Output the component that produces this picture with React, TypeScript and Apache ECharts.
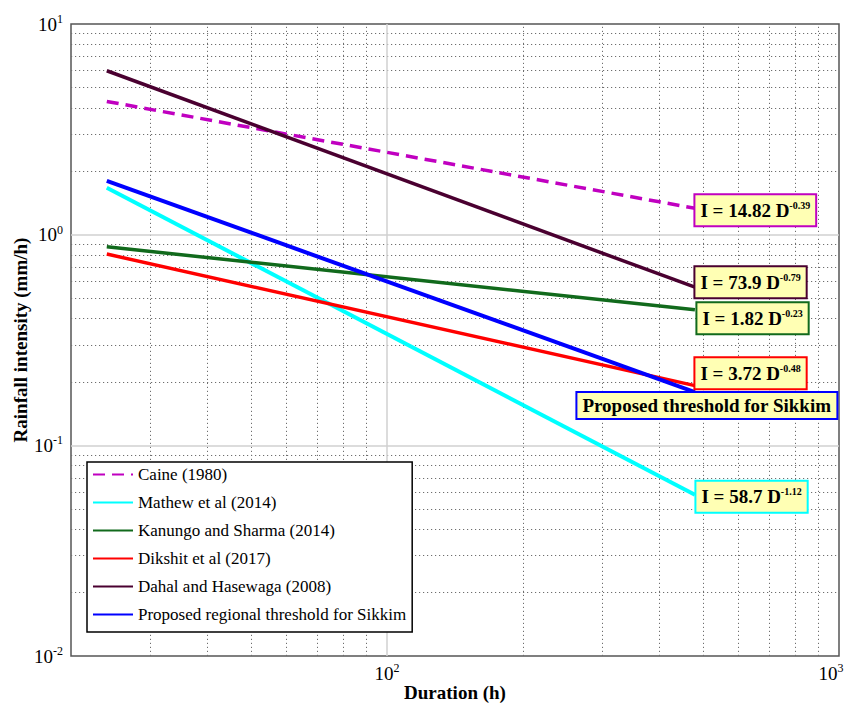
import React, { useEffect, useRef } from 'react';
import * as echarts from 'echarts';

// Duration span (h) covered by every threshold curve
const durations = [24, 480];

const seriesNames = [
  'Caine (1980)',
  'Mathew et al (2014)',
  'Kanungo and Sharma (2014)',
  'Dikshit et al (2017)',
  'Dahal and Hasewaga (2008)',
  'Proposed regional threshold for Sikkim',
];

// Rainfall intensity (mm/h) at the two ends of each power-law threshold
const caineValues = [4.291, 1.334];
const mathewValues = [1.67, 0.0583];
const kanungoValues = [0.876, 0.44];
const dikshitValues = [0.809, 0.192];
const dahalValues = [6.0, 0.563];
const sikkimValues = [1.8, 0.179];

// Equation annotations  I = a D^b
const eqCoefficients = ['14.82', '58.7', '1.82', '3.72', '73.9', ''];
const eqExponents = ['-0.39', '-1.12', '-0.23', '-0.48', '-0.79', ''];
const sikkimBoxText = 'Proposed threshold for Sikkim';

// Minor / major grid positions
const minorX = [30, 40, 50, 60, 70, 80, 90, 200, 300, 400, 500, 600, 700, 800, 900];
const majorX = [100];
const minorY = [
  0.02, 0.03, 0.04, 0.05, 0.06, 0.07, 0.08, 0.09,
  0.2, 0.3, 0.4, 0.5, 0.6, 0.7, 0.8, 0.9,
  2, 3, 4, 5, 6, 7, 8, 9,
];
const majorY = [0.1, 1];

const colors = ['#c000c0', '#00ffff', '#116a1c', '#ff0000', '#4a0030', '#0000ff'];
const labelOffsets: [number, number][] = [
  [0, 2],
  [1, 2],
  [2, 8.5],
  [0, -12.5],
  [0, -5],
  [-118, 13.5],
];

const SERIF = 'Liberation Serif';

// "10" with the decade exponent as a superscript; empty for non-decade ticks
function powerLabel(v: number, padRight = false): string {
  const e = Math.log10(v);
  const r = Math.round(e);
  if (Math.abs(e - r) > 1e-6) return '';
  return `{b|10}{s|${r}}` + (padRight && r === 3 ? '{g|}' : '');
}

export default function App() {
  const ref = useRef<HTMLDivElement>(null);

  useEffect(() => {
    if (!ref.current) return;
    const chart = echarts.init(ref.current, undefined, { renderer: 'svg' });

    const allValues = [caineValues, mathewValues, kanungoValues, dikshitValues, dahalValues, sikkimValues];

    const minorLine = { type: [1.2, 2.8] as number[], color: '#6e6e6e', width: 1 };
    const majorLine = { type: 'solid' as const, color: '#d0d0d0', width: 1.5 };

    const gridSeries = {
      type: 'line',
      name: 'grid',
      data: [],
      silent: true,
      markLine: {
        z: 1,
        silent: true,
        symbol: ['none', 'none'],
        label: { show: false },
        animation: false,
        data: [
          ...minorX.map((v) => ({ xAxis: v, lineStyle: minorLine })),
          ...minorY.map((v) => ({ yAxis: v, lineStyle: minorLine })),
          ...majorX.map((v) => ({ xAxis: v, lineStyle: majorLine })),
          ...majorY.map((v) => ({ yAxis: v, lineStyle: majorLine })),
        ],
      },
    };

    const curves = seriesNames.map((name, i) => {
      const vals = allValues[i];
      const isSikkim = i === 5;
      const formatter = isSikkim
        ? `{p|${sikkimBoxText}}`
        : `{m|I = ${eqCoefficients[i]} D}{s|${eqExponents[i]}}`;
      return {
        type: 'line',
        name,
        data: durations.map((d, k) => [d, vals[k]]),
        symbol: 'none',
        lineStyle: {
          color: colors[i],
          width: i === 1 || i === 5 ? 4 : 3.5,
          type: i === 0 ? ([12, 7] as number[]) : 'solid',
        },
        itemStyle: { color: colors[i] },
        markPoint: {
          z: 6,
          symbol: 'circle',
          symbolSize: 1,
          itemStyle: { color: 'rgba(0,0,0,0)' },
          silent: true,
          animation: false,
          data: [{ coord: [durations[1], vals[1]] }],
          label: {
            show: true,
            position: 'right',
            distance: 0,
            offset: labelOffsets[i],
            formatter,
            backgroundColor: '#ffffb4',
            borderColor: colors[i],
            borderWidth: 2,
            padding: isSikkim ? [3, 5, 3, 5] : [5, 5, 5, 5],
            rich: {
              m: { fontFamily: SERIF, fontSize: 19, fontWeight: 'bold', color: '#000' },
              s: { fontFamily: SERIF, fontSize: 10, fontWeight: 'bold', color: '#000', padding: [0, 0, 10, 0] },
              p: { fontFamily: SERIF, fontSize: 19, fontWeight: 'bold', color: '#000' },
            },
          },
        },
      };
    });

    const axisRich = {
      b: { fontFamily: SERIF, fontSize: 19, color: '#000' },
      s: { fontFamily: SERIF, fontSize: 12, color: '#000', padding: [0, 0, 10, 0] },
      g: { width: 16 },
    };

    chart.setOption({
      animation: false,
      textStyle: { fontFamily: SERIF },
      grid: {
        left: 71,
        top: 24,
        right: 7,
        bottom: 47,
        outerBoundsMode: 'none',
        containLabel: false,
        show: true,
        borderColor: '#555',
        borderWidth: 1.5,
        backgroundColor: 'transparent',
      },
      legend: {
        data: seriesNames,
        orient: 'vertical',
        left: 87,
        top: 462,
        backgroundColor: '#fff',
        borderColor: '#000',
        borderWidth: 1.5,
        borderRadius: 0,
        padding: [4, 6, 9, 5],
        itemWidth: 40,
        itemHeight: 14,
        itemGap: 11,
        itemStyle: { opacity: 0 },
        textStyle: { fontFamily: SERIF, fontSize: 17, color: '#000' },
      },
      xAxis: {
        type: 'log',
        logBase: 10,
        min: 20,
        max: 1000,
        splitNumber: 2,
        name: 'Duration (h)',
        nameLocation: 'middle',
        nameGap: 27,
        nameMoveOverlap: false,
        nameTextStyle: { fontFamily: SERIF, fontSize: 19, fontWeight: 'bold', color: '#000' },
        axisLine: { show: false },
        axisTick: { show: false },
        splitLine: { show: false },
        axisLabel: {
          margin: 6,
          formatter: (v: number) => powerLabel(v, true),
          rich: axisRich,
          showMinLabel: true,
          showMaxLabel: true,
        },
      },
      yAxis: {
        type: 'log',
        logBase: 10,
        min: 0.01,
        max: 10,
        splitNumber: 3,
        name: 'Rainfall intensity (mm/h)',
        nameLocation: 'middle',
        nameGap: 41,
        nameMoveOverlap: false,
        nameTextStyle: { fontFamily: SERIF, fontSize: 19, fontWeight: 'bold', color: '#000' },
        axisLine: { show: false },
        axisTick: { show: false },
        splitLine: { show: false },
        axisLabel: {
          margin: 8,
          formatter: (v: number) => powerLabel(v),
          rich: axisRich,
          showMinLabel: true,
          showMaxLabel: true,
        },
      },
      series: [gridSeries, ...curves],
    });

    return () => chart.dispose();
  }, []);

  return (
    <div
      ref={ref}
      style={{ position: 'fixed', left: 0, top: 0, width: 846, height: 703, background: '#fff' }}
    />
  );
}
